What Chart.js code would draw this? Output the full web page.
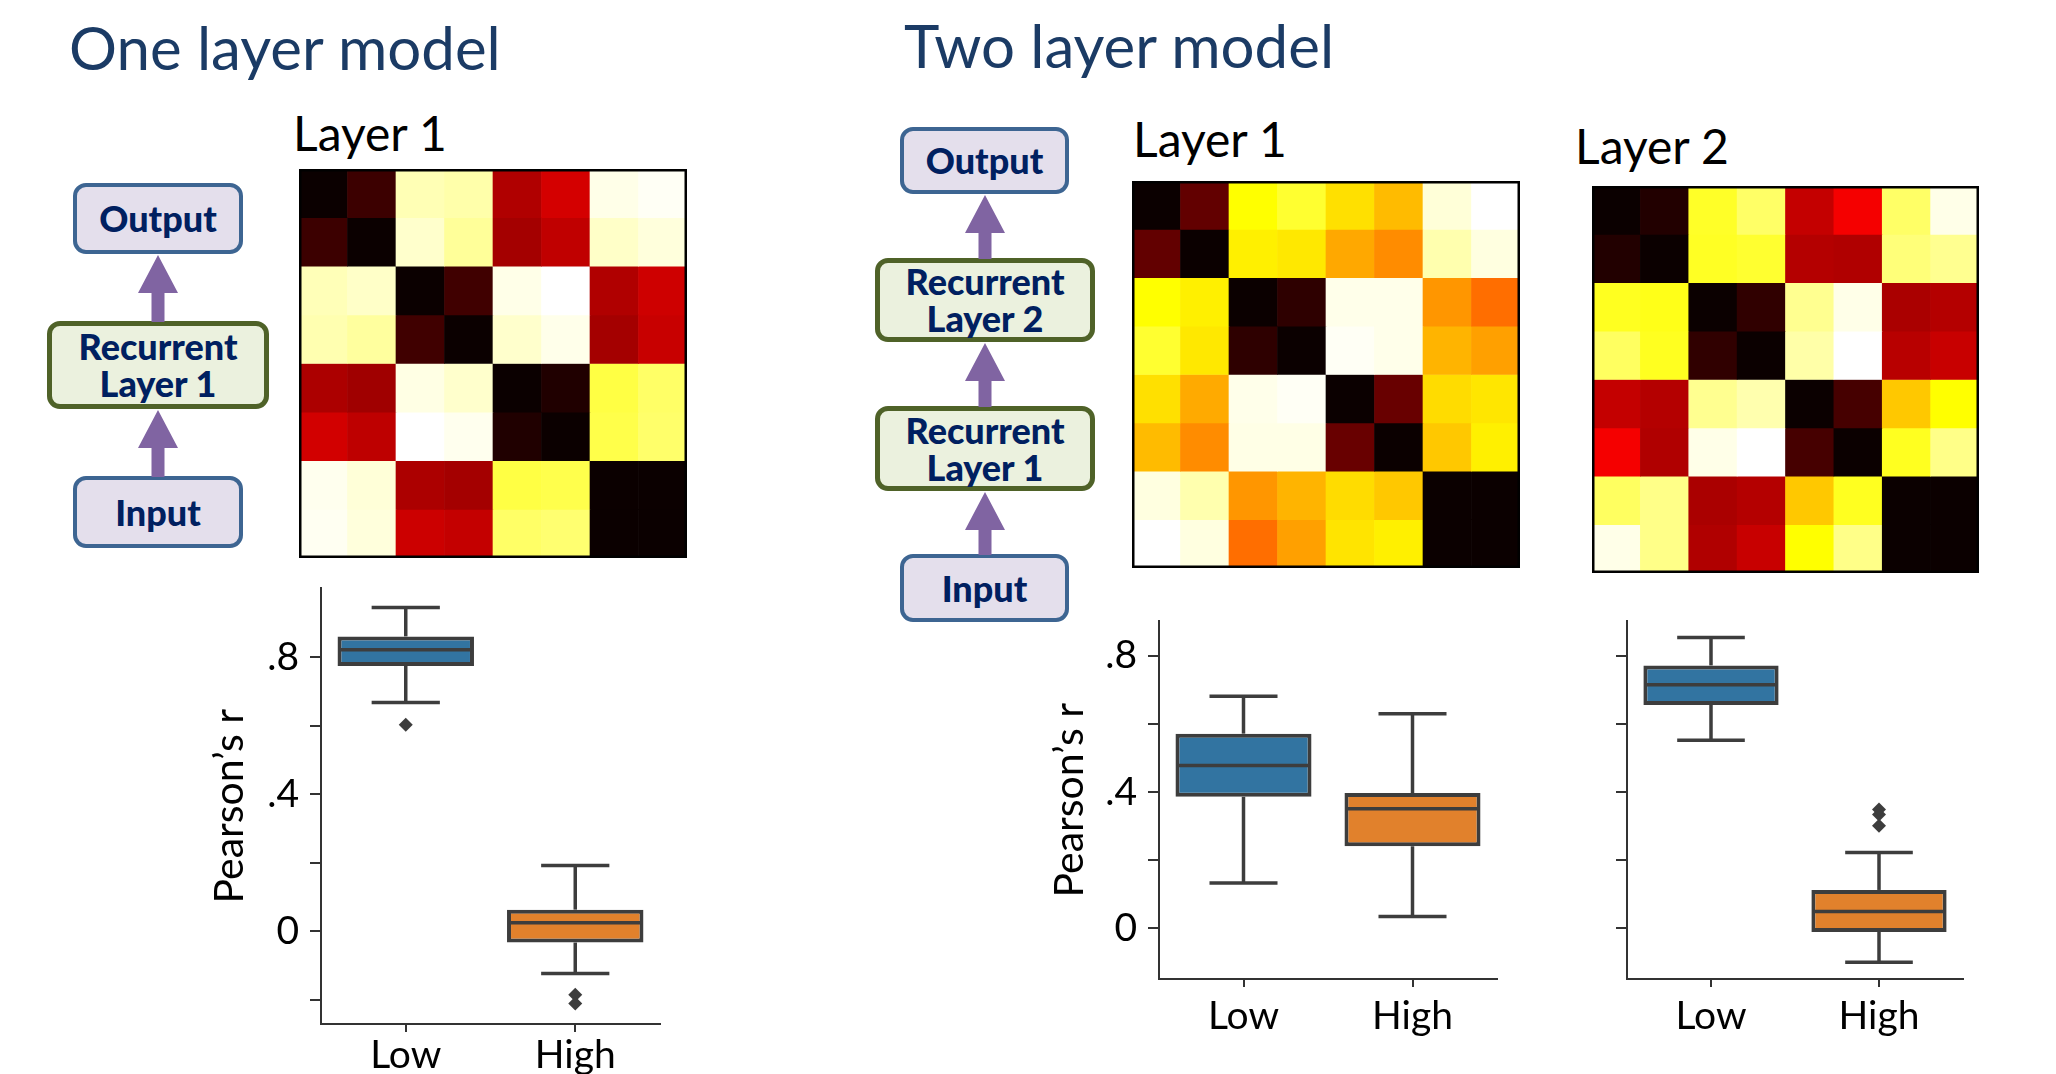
<!DOCTYPE html>
<html lang="en">
<head>
  <meta charset="UTF-8">
  <title>One layer model / Two layer model</title>
  <style>
    body {
      margin: 0;
      width: 2056px;
      height: 1074px;
      position: relative;
      overflow: hidden;
      background: #fff;
      font-family: Lato, "Noto Sans", sans-serif;
    }
    canvas, .txt, .node, svg { position: absolute; }
    .txt { line-height: 1; white-space: nowrap; }
    .title { font-size: 60px; color: #1b3b65; }
    .layer { font-size: 48px; color: #000; }
    .node {
      box-sizing: border-box;
      display: flex;
      align-items: center;
      justify-content: center;
      text-align: center;
      font-weight: 900;
      font-size: 36px;
      line-height: 37px;
      color: #002060;
      border-radius: 13px;
    }
    .io { background: #e4dfec; border: 4px solid #3d6592; }
    .rec { background: #ebf1de; border: 5px solid #4f6228; }
  </style>
  <script src="https://cdn.jsdelivr.net/npm/chart.js"></script>
</head>
<body>
  <div class="txt title" style="left:69px; top:17px;">One layer model</div>
  <div class="txt title" style="left:904px; top:15px;">Two layer model</div>
  <div class="txt layer" style="left:293px; top:109px;">Layer 1</div>
  <div class="txt layer" style="left:1133px; top:115px;">Layer 1</div>
  <div class="txt layer" style="left:1575px; top:122px;">Layer 2</div>

  <div class="node io" style="left:73px; top:183px; width:170px; height:71px;">Output</div>
  <div class="node rec" style="left:47px; top:321px; width:222px; height:88px;">Recurrent<br>Layer 1</div>
  <div class="node io" style="left:73px; top:476px; width:170px; height:72px;">Input</div>

  <div class="node io" style="left:900px; top:127px; width:169px; height:67px;">Output</div>
  <div class="node rec" style="left:875px; top:258px; width:220px; height:84px;">Recurrent<br>Layer 2</div>
  <div class="node rec" style="left:875px; top:406px; width:220px; height:85px;">Recurrent<br>Layer 1</div>
  <div class="node io" style="left:900px; top:554px; width:169px; height:68px;">Input</div>

  <canvas id="hm1" width="388" height="389" style="left:299px; top:169px;"></canvas>
  <canvas id="hm2" width="388" height="387" style="left:1132px; top:181px;"></canvas>
  <canvas id="hm3" width="387" height="387" style="left:1592px; top:186px;"></canvas>

  <canvas id="box1" width="465" height="520" style="left:205px; top:554px;"></canvas>
  <canvas id="box2" width="462" height="452" style="left:1045px; top:587px;"></canvas>
  <canvas id="box3" width="383" height="452" style="left:1590px; top:587px;"></canvas>

  <script>
    // heatmaps (values on the "hot" colour scale, 0 = black, 1 = white)
    const cellIdx = [0, 1, 2, 3, 4, 5, 6, 7];

    const oneLayer1 = [
      [0, .074, .926, .915, .247, .301, .977, .990],
      [.074, 0, .949, .898, .229, .271, .945, .965],
      [.929, .945, 0, .080, .977, 1.0, .247, .292],
      [.921, .903, .080, 0, .949, .979, .229, .283],
      [.241, .223, .973, .949, 0, .032, .814, .848],
      [.298, .268, 1.0, .983, .032, 0, .820, .852],
      [.983, .961, .241, .229, .814, .822, 0, 0],
      [.987, .965, .289, .277, .848, .858, 0, 0]
    ];
    const twoLayer1 = [
      [0, .131, .746, .794, .700, .644, .961, 1.0],
      [.131, 0, .724, .712, .616, .574, .919, .969],
      [.746, .724, 0, .053, .979, .979, .589, .529],
      [.794, .712, .053, 0, .990, .979, .634, .604],
      [.700, .619, .979, .990, 0, .139, .694, .709],
      [.644, .574, .975, .975, .139, 0, .664, .724],
      [.969, .919, .589, .634, .694, .664, 0, 0],
      [1.0, .969, .529, .604, .706, .724, 0, 0]
    ];
    const twoLayer2 = [
      [0, .035, .786, .848, .277, .350, .848, .977],
      [.035, 0, .782, .794, .253, .247, .867, .889],
      [.778, .770, 0, .056, .889, .977, .238, .253],
      [.842, .778, .056, 0, .913, 1.0, .259, .283],
      [.277, .253, .889, .919, 0, .089, .664, .746],
      [.350, .247, .977, 1.0, .089, 0, .778, .881],
      [.842, .881, .238, .253, .664, .778, 0, 0],
      [.977, .881, .247, .283, .746, .881, 0, 0]
    ];

    // box plots: Pearson's r for Low / High
    const groups = ['Low', 'High'];

    const oneWlo = [0.667, -0.123];
    const oneQ1 = [0.774, -0.033];
    const oneMed = [0.821, 0.025];
    const oneQ3 = [0.860, 0.063];
    const oneWhi = [0.944, 0.192];
    const oneOut = [[0.602], [-0.185, -0.211]];

    const twoL1Wlo = [0.133, 0.035];
    const twoL1Q1 = [0.386, 0.241];
    const twoL1Med = [0.478, 0.351];
    const twoL1Q3 = [0.571, 0.397];
    const twoL1Whi = [0.681, 0.629];
    const twoL1Out = [[], []];

    const twoL2Wlo = [0.552, -0.099];
    const twoL2Q1 = [0.655, -0.010];
    const twoL2Med = [0.714, 0.050];
    const twoL2Q3 = [0.771, 0.113];
    const twoL2Whi = [0.853, 0.223];
    const twoL2Out = [[], [0.301, 0.334, 0.349]];

    const oneTicks = [-0.2, 0, 0.2, 0.4, 0.6, 0.8];
    const oneTickLabels = ['', '0', '', '.4', '', '.8'];
    const twoTicks = [0, 0.2, 0.4, 0.6, 0.8];
    const twoTickLabels = ['0', '', '.4', '', '.8'];
    const noTickLabels = ['', '', '', '', ''];

    const boxFill = ['#3274a1', '#e1812c'];
    const edge = '#3d3d3d';
    const spine = '#333333';

    Chart.defaults.font.family = 'Lato, "Noto Sans", sans-serif';
    Chart.defaults.color = '#000';

    // matplotlib "hot"
    function hot(v) {
      const c = x => Math.round(255 * Math.min(1, Math.max(0, x)));
      const r = 0.0416 + 0.9584 * v / 0.365079;
      const g = (v - 0.365079) / (0.746032 - 0.365079);
      const b = (v - 0.746032) / (1 - 0.746032);
      return 'rgb(' + c(r) + ',' + c(g) + ',' + c(b) + ')';
    }

    const frame = {
      id: 'frame',
      afterDraw(chart) {
        const a = chart.chartArea, ctx = chart.ctx;
        ctx.save();
        ctx.strokeStyle = '#000';
        ctx.lineWidth = 2.5;
        ctx.strokeRect(a.left + 1.25, a.top + 1.25, a.width - 2.5, a.height - 2.5);
        ctx.restore();
      }
    };

    function heatmap(id, rows) {
      new Chart(document.getElementById(id), {
        type: 'bar',
        data: {
          labels: cellIdx,
          datasets: rows.map((row, r) => ({
            data: row.map(() => [r, r + 1]),
            backgroundColor: row.map(hot),
            borderWidth: 0,
            barPercentage: 1,
            categoryPercentage: 1,
            grouped: false
          }))
        },
        options: {
          responsive: false,
          animation: false,
          layout: { padding: 0 },
          plugins: { legend: { display: false }, tooltip: { enabled: false } },
          scales: {
            x: { display: false },
            y: { display: false, min: 0, max: 8, reverse: true }
          }
        },
        plugins: [frame]
      });
    }

    heatmap('hm1', oneLayer1);
    heatmap('hm2', twoLayer1);
    heatmap('hm3', twoLayer2);

    // whiskers, caps and medians drawn from the box bars and the y scale
    const whiskers = {
      id: 'whiskers',
      afterDatasetsDraw(chart) {
        const s = chart.options.plugins.whiskers;
        const y = chart.scales.y, ctx = chart.ctx;
        const meta = chart.getDatasetMeta(0);
        ctx.save();
        ctx.strokeStyle = edge;
        ctx.lineWidth = 3.5;
        ctx.lineCap = 'butt';
        meta.data.forEach((bar, i) => {
          const x = bar.x, hw = bar.width / 2 - 2;
          const seg = (x1, y1, x2, y2) => {
            ctx.beginPath(); ctx.moveTo(x1, y1); ctx.lineTo(x2, y2); ctx.stroke();
          };
          const pMed = y.getPixelForValue(s.med[i]);
          const pQ1 = y.getPixelForValue(s.q1[i]);
          const pQ3 = y.getPixelForValue(s.q3[i]);
          const pLo = y.getPixelForValue(s.wlo[i]);
          const pHi = y.getPixelForValue(s.whi[i]);
          seg(x - hw, pMed, x + hw, pMed);
          seg(x, pQ3, x, pHi);
          seg(x - bar.width / 4, pHi, x + bar.width / 4, pHi);
          seg(x, pQ1, x, pLo);
          seg(x - bar.width / 4, pLo, x + bar.width / 4, pLo);
        });
        ctx.restore();
      }
    };

    function boxChart(id, st, o) {
      const outPts = [];
      st.out.forEach((vals, i) => vals.forEach(v => outPts.push({ x: groups[i], y: v })));
      new Chart(document.getElementById(id), {
        type: 'bar',
        data: {
          labels: groups,
          datasets: [{
            data: groups.map((g, i) => [st.q1[i], st.q3[i]]),
            backgroundColor: boxFill,
            borderColor: edge,
            borderWidth: 4,
            borderSkipped: false,
            barPercentage: 0.805,
            categoryPercentage: 1
          }, {
            type: 'line',
            data: outPts,
            showLine: false,
            pointStyle: 'rectRot',
            pointRadius: 7,
            pointBackgroundColor: edge,
            pointBorderColor: edge,
            pointBorderWidth: 0
          }]
        },
        options: {
          responsive: false,
          animation: false,
          layout: { padding: { top: 25, right: 10, left: 0, bottom: 0 } },
          plugins: {
            legend: { display: false },
            tooltip: { enabled: false },
            whiskers: st
          },
          scales: {
            x: {
              afterFit: s => { s.height = o.xH; },
              ticks: { font: { size: 39 }, color: '#000', padding: o.xPad, autoSkip: false, maxRotation: 0 },
              grid: { drawOnChartArea: false, offset: false, tickLength: 8, color: spine, lineWidth: 2 },
              border: { color: spine, width: 2 }
            },
            y: {
              min: o.min,
              max: o.max,
              afterBuildTicks: s => { s.ticks = o.ticks.map(v => ({ value: v })); },
              afterFit: s => { s.width = o.yW; },
              ticks: { font: { size: 39 }, color: '#000', padding: 11, callback: (v, i) => o.labels[i] },
              grid: { drawOnChartArea: false, tickLength: 11, color: spine, lineWidth: 2 },
              border: { color: spine, width: 2 },
              title: { display: o.title, text: 'Pearson\u2019s r', font: { size: 41 }, color: '#000', padding: 0 }
            }
          }
        },
        plugins: [whiskers]
      });
    }

    boxChart('box1',
      { q1: oneQ1, med: oneMed, q3: oneQ3, wlo: oneWlo, whi: oneWhi, out: oneOut },
      { min: -0.2706, max: 1.0, ticks: oneTicks, labels: oneTickLabels, title: true, yW: 116, xH: 50, xPad: 0 });
    boxChart('box2',
      { q1: twoL1Q1, med: twoL1Med, q3: twoL1Q3, wlo: twoL1Wlo, whi: twoL1Whi, out: twoL1Out },
      { min: -0.148, max: 0.9, ticks: twoTicks, labels: twoTickLabels, title: true, yW: 114, xH: 60, xPad: 6 });
    boxChart('box3',
      { q1: twoL2Q1, med: twoL2Med, q3: twoL2Q3, wlo: twoL2Wlo, whi: twoL2Whi, out: twoL2Out },
      { min: -0.148, max: 0.9, ticks: twoTicks, labels: noTickLabels, title: false, yW: 37, xH: 60, xPad: 6 });

    // purple arrows between the nodes
    function arrow(cx, tip, base) {
      const ns = 'http://www.w3.org/2000/svg';
      const svg = document.createElementNS(ns, 'svg');
      const w = 40, h = base - tip;
      svg.setAttribute('width', w);
      svg.setAttribute('height', h);
      svg.style.left = (cx - w / 2) + 'px';
      svg.style.top = tip + 'px';
      const p = document.createElementNS(ns, 'polygon');
      const hw = w / 2, sw = 6.5, hh = 38;
      p.setAttribute('points', [
        [hw, 0], [w, hh], [hw + sw, hh], [hw + sw, h], [hw - sw, h], [hw - sw, hh], [0, hh]
      ].map(q => q.join(',')).join(' '));
      p.setAttribute('fill', '#8064a2');
      svg.appendChild(p);
      document.body.appendChild(svg);
    }
    arrow(158, 255, 322);
    arrow(158, 410, 477);
    arrow(985, 195, 259);
    arrow(985, 343, 407);
    arrow(985, 492, 555);
  </script>
</body>
</html>
